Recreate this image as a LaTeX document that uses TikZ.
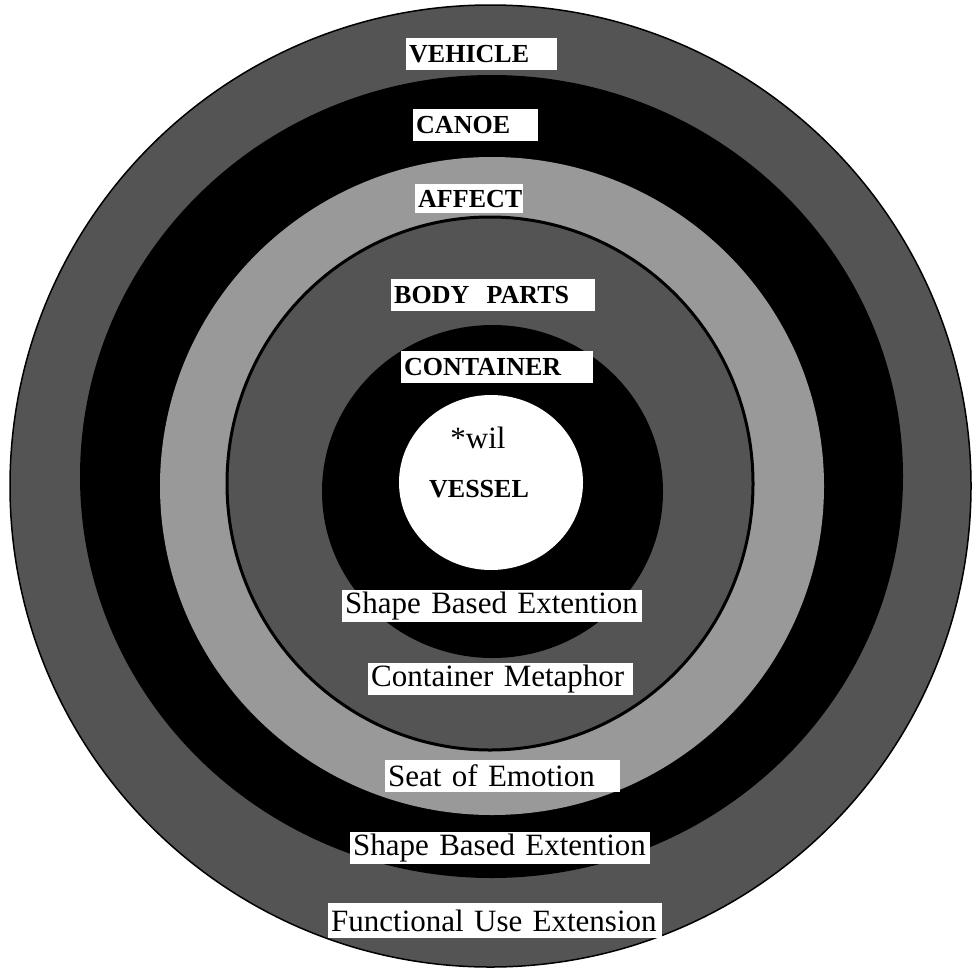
\documentclass[tikz,border=0pt]{standalone}
\usepackage{fontspec}
\setmainfont{Liberation Serif}
\definecolor{ringdark}{gray}{0.33}
\definecolor{ringlight}{gray}{0.6}

\begin{document}
\begin{tikzpicture}[x=1pt,y=-1pt,
    band/.style={fill=white,anchor=north west,inner xsep=3pt,inner ysep=0pt,
      text width=#1,align=left,minimum height=32pt},
    caps/.style={font=\fontsize{26}{26}\selectfont\bfseries},
    plain/.style={font=\fontsize{31}{31}\selectfont}]
  \useasboundingbox (0,0) rectangle (976,969);
  % rings, outside in
  \fill[ringdark,draw=black,line width=1.5pt] (490.5,486) ellipse [x radius=480.5pt,y radius=481pt];
  \fill[black] (491.5,476.5) ellipse [x radius=411.5pt,y radius=401.5pt];
  \fill[ringlight] (492,486) ellipse [x radius=332pt,y radius=329pt];
  \fill[ringdark,draw=black,line width=3pt] (490,483.5) ellipse [x radius=263pt,y radius=266.5pt];
  \fill[black] (492.5,491.5) ellipse [x radius=170.5pt,y radius=166.5pt];
  \fill[white] (491,482.5) ellipse [x radius=92pt,y radius=87.5pt];
  % upper labels
  \node[band=145pt,caps] (vehicle) at (406,38) {VEHICLE};
  \node[band=119pt,caps] (canoe) at (413,109) {CANOE};
  \node[band=102pt,caps,minimum height=29pt] (affect) at (415,184) {AFFECT};
  \node[band=198pt,caps] (bodyparts) at (391,279) {BODY\ \ PARTS};
  \node[band=186pt,caps] (container) at (401,351) {CONTAINER};
  \node[plain] (wil) at (478,438) {*wil};
  \node[caps] (vessel) at (479,489) {VESSEL};
  % lower labels
  \node[band=294pt,plain] (shapeA) at (342,590) {Shape Based Extention};
  \node[band=259pt,plain] (metaphor) at (368,663) {Container Metaphor};
  \node[band=229pt,plain] (emotion) at (385,760) {Seat of Emotion};
  \node[band=294pt,plain] (shapeB) at (350,832) {Shape Based Extention};
  \node[band=328pt,plain,minimum height=35pt] (functional) at (328,903) {Functional Use Extension};
\end{tikzpicture}
\end{document}
